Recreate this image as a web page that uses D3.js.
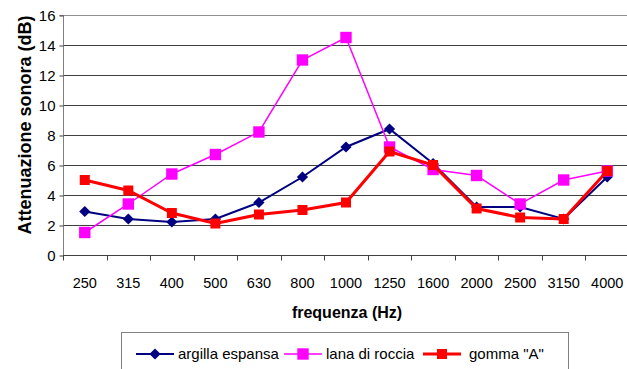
<!DOCTYPE html>
<html>
<head>
<meta charset="utf-8">
<script src="https://cdn.jsdelivr.net/npm/d3@7"></script>
<style>
  body { margin: 0; background: #fff; }
  svg { font-family: Arial, "Liberation Sans", sans-serif; }
</style>
</head>
<body>
<svg id="chart"></svg>
<script>
// frequencies (Hz)
const frequencies = ['250', '315', '400', '500', '630', '800', '1000', '1250', '1600', '2000', '2500', '3150', '4000'];

// attenuation values (dB)
const argillaEspansa = [2.9, 2.4, 2.2, 2.4, 3.5, 5.2, 7.2, 8.4, 6.1, 3.2, 3.2, 2.4, 5.2];
const lanaDiRoccia = [1.5, 3.4, 5.4, 6.7, 8.2, 13.0, 14.5, 7.2, 5.7, 5.3, 3.4, 5.0, 5.6];
const gommaA = [5.0, 4.3, 2.8, 2.1, 2.7, 3.0, 3.5, 6.9, 6.0, 3.1, 2.5, 2.4, 5.6];

const yTicks = [0, 2, 4, 6, 8, 10, 12, 14, 16];

const seriesList = [
    { name: 'argilla espansa', values: argillaEspansa, color: '#000080', width: 2, marker: 'diamond', size: 80 },
    { name: 'lana di roccia', values: lanaDiRoccia, color: '#ff00ff', width: 1.5, marker: 'square', size: 130 },
    { name: 'gomma "A"', values: gommaA, color: '#ff0000', width: 3, marker: 'square', size: 100 }
];

const width = 627, height = 369;
const margin = { top: 15, right: 0, bottom: 114, left: 63 };

const svg = d3.select('#chart')
    .attr('width', width)
    .attr('height', height);

const xScale = d3.scaleBand()
    .domain(frequencies)
    .range([margin.left, 629]);

const yScale = d3.scaleLinear()
    .domain([0, 16])
    .range([height - margin.bottom, margin.top]);

// horizontal gridlines
svg.append('g')
    .selectAll('line')
    .data(yTicks.filter(d => d > 0))
    .join('line')
    .attr('x1', margin.left)
    .attr('x2', width)
    .attr('y1', d => Math.round(yScale(d)) + 0.5)
    .attr('y2', d => Math.round(yScale(d)) + 0.5)
    .attr('stroke', d => d === 16 ? '#909090' : '#404040')
    .attr('stroke-width', 1);

// y axis
const yAxis = d3.axisLeft(yScale)
    .tickValues(yTicks)
    .tickSize(4)
    .tickPadding(4);

const yAxisG = svg.append('g')
    .attr('transform', `translate(${margin.left + 0.5},0.5)`)
    .call(yAxis);

yAxisG.select('.domain').attr('stroke', '#808080').attr('d', `M-4,${yScale(16)}H0V${yScale(0)}`);
yAxisG.selectAll('.tick line').attr('stroke', '#404040');
yAxisG.selectAll('.tick text')
    .attr('font-size', 15)
    .attr('fill', '#000');

// x axis: category boundaries as ticks
const xAxisG = svg.append('g')
    .attr('transform', `translate(0,${Math.round(yScale(0)) + 0.5})`);

xAxisG.append('line')
    .attr('x1', margin.left)
    .attr('x2', width)
    .attr('stroke', '#404040');

xAxisG.selectAll('.bound')
    .data(frequencies)
    .join('line')
    .attr('class', 'bound')
    .attr('x1', d => Math.round(xScale(d)) + 0.5)
    .attr('x2', d => Math.round(xScale(d)) + 0.5)
    .attr('y1', 0)
    .attr('y2', 5)
    .attr('stroke', '#404040');

xAxisG.selectAll('.label')
    .data(frequencies)
    .join('text')
    .attr('class', 'label')
    .attr('x', d => xScale(d) + xScale.bandwidth() / 2)
    .attr('y', 32)
    .attr('text-anchor', 'middle')
    .attr('font-size', 14.5)
    .attr('fill', '#000')
    .text(d => d);

// axis titles
svg.append('text')
    .attr('x', 347)
    .attr('y', 318)
    .attr('text-anchor', 'middle')
    .attr('font-size', 16)
    .attr('font-weight', 'bold')
    .text('frequenza (Hz)');

svg.append('text')
    .attr('transform', 'translate(31,125) rotate(-90)')
    .attr('text-anchor', 'middle')
    .attr('font-size', 18)
    .attr('font-weight', 'bold')
    .text('Attenuazione sonora (dB)');

// lines and markers
const line = d3.line()
    .x((d, i) => xScale(frequencies[i]) + xScale.bandwidth() / 2)
    .y(d => yScale(d));

const symbolFor = s => d3.symbol()
    .type(s.marker === 'diamond' ? d3.symbolDiamond2 : d3.symbolSquare)
    .size(s.size);

seriesList.forEach(s => {
    const g = svg.append('g');

    g.append('path')
        .datum(s.values)
        .attr('fill', 'none')
        .attr('stroke', s.color)
        .attr('stroke-width', s.width)
        .attr('d', line);

    g.selectAll('path.marker')
        .data(s.values)
        .join('path')
        .attr('class', 'marker')
        .attr('transform', (d, i) => `translate(${xScale(frequencies[i]) + xScale.bandwidth() / 2},${yScale(d)})`)
        .attr('fill', s.color)
        .attr('d', symbolFor(s));
});

// legend
const legend = svg.append('g');

legend.append('rect')
    .attr('x', 121.5)
    .attr('y', 332.5)
    .attr('width', 447)
    .attr('height', 40)
    .attr('fill', '#fff')
    .attr('stroke', '#808080');

const legendX = [136, 284, 423];

seriesList.forEach((s, i) => {
    const lg = legend.append('g')
        .attr('transform', `translate(${legendX[i]},354)`);

    lg.append('line')
        .attr('x1', 0)
        .attr('x2', 38)
        .attr('stroke', s.color)
        .attr('stroke-width', s.width);

    lg.append('path')
        .attr('transform', 'translate(19,0)')
        .attr('fill', s.color)
        .attr('d', symbolFor(s));

    lg.append('text')
        .attr('x', i === 2 ? 46 : 42)
        .attr('y', 5)
        .attr('font-size', 15)
        .text(s.name);
});
</script>
</body>
</html>
